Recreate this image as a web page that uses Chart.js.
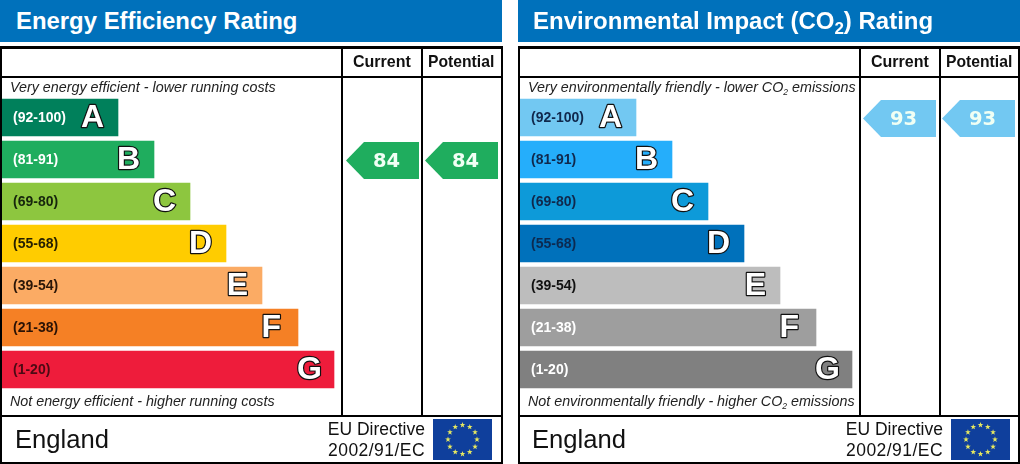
<!DOCTYPE html>
<html lang="en">
<head>
<meta charset="UTF-8">
<title>Energy Performance Certificate ratings</title>
<script src="https://cdn.jsdelivr.net/npm/chart.js@4"></script>
<style>
    html, body { margin: 0; padding: 0; background: #fff; }
    body { width: 1020px; height: 464px; position: relative; overflow: hidden; font-family: "Liberation Sans", Arial, sans-serif; color: #111; }
    .panel { position: absolute; top: 0; width: 503px; height: 464px; }
    .panel canvas { position: absolute; left: 0; top: 0; }
    .panel div { position: absolute; white-space: nowrap; }
    .banner { left: 0; top: 0; width: 502px; height: 42px; background: #0071bb; }
    .title { top: 5px; font-weight: bold; font-size: 23.9px; line-height: 32px; color: #fff; }
    .title sub { font-size: 17px; line-height: 0; vertical-align: -5px; }
    .line { background: #000; }
    .col { top: 52px; font-weight: bold; font-size: 16px; line-height: 20px; }
    .col.pot { font-size: 15.7px; }
    .note { left: 10px; font-style: italic; font-size: 14.3px; line-height: 18px; color: #222; }
    .note sub { font-size: 8.5px; line-height: 0; vertical-align: -3px; }
    .country { left: 15px; top: 424px; font-size: 25.6px; line-height: 30px; }
    .directive { right: 78px; text-align: right; font-size: 17.5px; line-height: 20px; }
    .directive.code { letter-spacing: 0.45px; }
</style>
</head>
<body>
<div class="panel" id="energy" style="left:0">
    <canvas id="energyChart" width="503" height="464"></canvas>
    <div class="banner"></div>
    <div class="title" style="left:16px">Energy Efficiency Rating</div>
    <div class="line" style="left:0;top:46px;width:503px;height:3px"></div>
    <div class="line" style="left:0;top:76px;width:503px;height:2px"></div>
    <div class="line" style="left:0;top:415px;width:503px;height:2px"></div>
    <div class="line" style="left:0;top:462px;width:503px;height:2px"></div>
    <div class="line" style="left:0;top:46px;width:2px;height:418px"></div>
    <div class="line" style="left:501px;top:46px;width:2px;height:418px"></div>
    <div class="line" style="left:341px;top:46px;width:2px;height:371px"></div>
    <div class="line" style="left:421px;top:46px;width:2px;height:371px"></div>
    <div class="col" style="left:353px">Current</div>
    <div class="col pot" style="left:428px">Potential</div>
    <div class="note" style="top:78px">Very energy efficient - lower running costs</div>
    <div class="note" style="top:392px">Not energy efficient - higher running costs</div>
    <div class="country">England</div>
    <div class="directive" style="top:419px">EU Directive</div>
    <div class="directive code" style="top:440px">2002/91/EC</div>
</div>
<div class="panel" id="co2" style="left:518px;width:502px">
    <canvas id="co2Chart" width="502" height="464"></canvas>
    <div class="banner"></div>
    <div class="title" style="left:15px;font-size:24px">Environmental Impact (CO<sub>2</sub>) Rating</div>
    <div class="line" style="left:0;top:46px;width:502px;height:3px"></div>
    <div class="line" style="left:0;top:76px;width:502px;height:2px"></div>
    <div class="line" style="left:0;top:415px;width:502px;height:2px"></div>
    <div class="line" style="left:0;top:462px;width:502px;height:2px"></div>
    <div class="line" style="left:0;top:46px;width:2px;height:418px"></div>
    <div class="line" style="left:500px;top:46px;width:2px;height:418px"></div>
    <div class="line" style="left:341px;top:46px;width:2px;height:371px"></div>
    <div class="line" style="left:421px;top:46px;width:2px;height:371px"></div>
    <div class="col" style="left:353px">Current</div>
    <div class="col pot" style="left:428px">Potential</div>
    <div class="note" style="top:78px">Very environmentally friendly - lower CO<sub>2</sub> emissions</div>
    <div class="note" style="top:392px">Not environmentally friendly - higher CO<sub>2</sub> emissions</div>
    <div class="country" style="left:14px">England</div>
    <div class="directive" style="top:419px;right:77px">EU Directive</div>
    <div class="directive code" style="top:440px;right:77px">2002/91/EC</div>
</div>

<script>
    const bands = ["A", "B", "C", "D", "E", "F", "G"];
    const bandRanges = ["(92-100)", "(81-91)", "(69-80)", "(55-68)", "(39-54)", "(21-38)", "(1-20)"];
    const bandFloors = [92, 81, 69, 55, 39, 21, 1];
    const barLengths = [118, 154, 190, 226, 262, 298, 334];

    const energyRatings = [84, 84];
    const co2Ratings = [93, 93];

    const energyColors = ["#00805b", "#1fad5e", "#8dc63f", "#ffcc00", "#fbab64", "#f58025", "#ee1c3b"];
    const co2Colors = ["#72c8f2", "#25aefb", "#0d9ad9", "#0071bb", "#bdbdbd", "#9e9e9e", "#808080"];
    const energyLabelColors = ["#fff", "#fff", "#16250c", "#262000", "#2a1608", "#2a1205", "#4c0a14"];
    const co2LabelColors = ["#10284c", "#10284c", "#10284c", "#0c2a50", "#111", "#fff", "#fff"];

    function bandOf(rating) {
        return bandFloors.findIndex(f => rating >= f);
    }

    // arrow shape used as the point style of the rating markers
    function pointerImage(color) {
        const c = document.createElement("canvas");
        c.width = 73;
        c.height = 39;
        const g = c.getContext("2d");
        g.fillStyle = color;
        g.beginPath();
        g.moveTo(0, 20.5);
        g.lineTo(18, 2);
        g.lineTo(73, 2);
        g.lineTo(73, 39);
        g.lineTo(18, 39);
        g.closePath();
        g.fill();
        return c;
    }

    function drawStar(g, x, y, r) {
        g.beginPath();
        for (let i = 0; i < 10; i++) {
            const a = -Math.PI / 2 + i * Math.PI / 5;
            const d = i % 2 ? r * 0.4 : r;
            g.lineTo(x + Math.cos(a) * d, y + Math.sin(a) * d);
        }
        g.closePath();
        g.fill();
    }

    const ratingPlugin = {
        id: "ratingPlugin",
        afterDatasetsDraw(chart, args, opts) {
            const g = chart.ctx;
            g.save();
            g.textBaseline = "middle";

            // range text and band letter on each bar
            chart.getDatasetMeta(0).data.forEach((bar, i) => {
                g.textAlign = "left";
                g.font = 'bold 14px "Liberation Sans"';
                g.fillStyle = opts.labelColors[i];
                g.fillText(bandRanges[i], 13, bar.y + 1);

                // F and G sit a little off the common right edge in the original
                const right = bar.x - 14 + (bands[i] === "F" ? -3 : bands[i] === "G" ? 2 : 0);
                g.textAlign = "right";
                g.font = 'bold 32px "Liberation Sans"';
                g.lineJoin = "round";
                g.lineWidth = 2.4;
                g.strokeStyle = "#111";
                g.strokeText(bands[i], right, bar.y + 1);
                g.fillStyle = "#fff";
                g.fillText(bands[i], right, bar.y + 1);
            });

            // rating number inside each arrow
            g.textAlign = "center";
            g.font = 'bold 19.5px "DejaVu Sans"';
            g.fillStyle = "#f0fff4";
            chart.getDatasetMeta(1).data.forEach((pt, i) => {
                g.fillText(opts.ratings[i], pt.x + 4, pt.y + 2);
            });

            // EU flag in the footer
            g.fillStyle = "#0f3f9c";
            g.fillRect(433, 419, 59, 41);
            g.fillStyle = "#e6e860";
            for (let i = 0; i < 12; i++) {
                const a = i * Math.PI / 6;
                drawStar(g, 462.5 + Math.sin(a) * 14.5, 439.5 - Math.cos(a) * 14.5, 3);
            }
            g.restore();
        }
    };

    function makeChart(id, colors, labelColors, ratings, currentCentre) {
        const width = document.getElementById(id).width;
        return new Chart(document.getElementById(id), {
            type: "bar",
            data: {
                labels: bands,
                datasets: [{
                    type: "bar",
                    indexAxis: "y",
                    data: barLengths,
                    backgroundColor: colors,
                    barThickness: 37,
                    xAxisID: "x",
                    yAxisID: "y"
                }, {
                    type: "scatter",
                    data: ratings.map((r, i) => ({ x: i, y: bands[bandOf(r)] })),
                    pointStyle: ratings.map(r => pointerImage(colors[bandOf(r)])),
                    pointRadius: 10,
                    clip: false,
                    xAxisID: "col",
                    yAxisID: "y"
                }]
            },
            options: {
                responsive: false,
                animation: false,
                indexAxis: "y",
                layout: { autoPadding: false, padding: { top: 96.5, bottom: 73.5, left: 0, right: 0 } },
                scales: {
                    x: { type: "linear", axis: "x", display: false, min: 0, max: width },
                    // one column every 79 units, 0 = Current and 1 = Potential
                    col: {
                        type: "linear",
                        axis: "x",
                        display: false,
                        min: -currentCentre / 79,
                        max: (width - currentCentre) / 79
                    },
                    y: { type: "category", axis: "y", display: false, labels: bands }
                },
                plugins: {
                    legend: { display: false },
                    tooltip: { enabled: false },
                    ratingPlugin: { labelColors, ratings }
                }
            },
            plugins: [ratingPlugin]
        });
    }

    makeChart("energyChart", energyColors, energyLabelColors, energyRatings, 382.5);
    makeChart("co2Chart", co2Colors, co2LabelColors, co2Ratings, 381.5);
</script>
</body>
</html>
